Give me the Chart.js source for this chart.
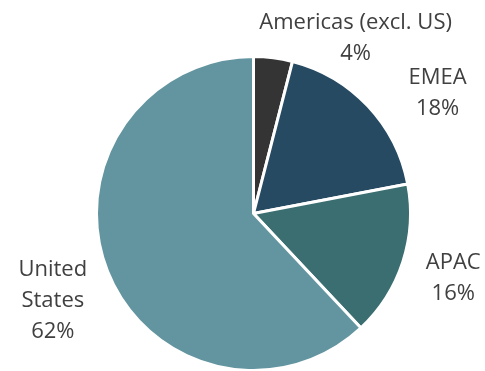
<!DOCTYPE html>
<html>
<head>
<meta charset="utf-8">
<script src="https://cdn.jsdelivr.net/npm/chart.js@4/dist/chart.umd.min.js"></script>
<style>
  html, body { margin: 0; padding: 0; background: #fff; overflow: hidden; }
  #wrap { width: 485px; height: 372px; }
</style>
</head>
<body>
<div id="wrap"><canvas id="regionChart"></canvas></div>
<script>
// revenue share by region
var regions = [["Americas (excl. US)"], ["EMEA"], ["APAC"], ["United", "States"]];
var shares = [4, 18, 16, 62];
var colors = ["#343434", "#264a62", "#3b6e70", "#6395a0"];

// label placement per slice: distance past the rim, angle shift (deg)
var labelGap = [46, 63, 53, 62];
var labelTurn = [23, 10, 0, -2];

var labelPlugin = {
  id: "outsideLabels",
  afterDatasetsDraw: function(chart) {
    var ctx = chart.ctx;
    var meta = chart.getDatasetMeta(0);
    ctx.save();
    ctx.font = "22px 'Open Sans', 'Noto Sans', sans-serif";
    ctx.fillStyle = "#404040";
    ctx.textAlign = "center";
    ctx.textBaseline = "middle";
    meta.data.forEach(function(arc, i) {
      var mid = (arc.startAngle + arc.endAngle) / 2 + labelTurn[i] * Math.PI / 180;
      var r = arc.outerRadius + labelGap[i];
      var x = arc.x + Math.cos(mid) * r;
      var y = arc.y + Math.sin(mid) * r;
      var lines = regions[i].concat([shares[i] + "%"]);
      var lh = 31;
      var top = y - (lines.length - 1) * lh / 2;
      lines.forEach(function(t, k) {
        ctx.fillText(t, x, top + k * lh);
      });
    });
    ctx.restore();
  }
};

var chart = new Chart(document.getElementById("regionChart"), {
  type: "pie",
  data: {
    labels: regions.map(function(r) { return r.join(" "); }),
    datasets: [{
      data: shares,
      backgroundColor: colors,
      borderColor: "#ffffff",
      borderWidth: 3
    }]
  },
  options: {
    responsive: true,
    maintainAspectRatio: false,
    animation: false,
    layout: { padding: { left: 95, right: 73, top: 55, bottom: 0 } },
    plugins: {
      legend: { display: false },
      tooltip: { enabled: false }
    }
  },
  plugins: [labelPlugin]
});
</script>
</body>
</html>
